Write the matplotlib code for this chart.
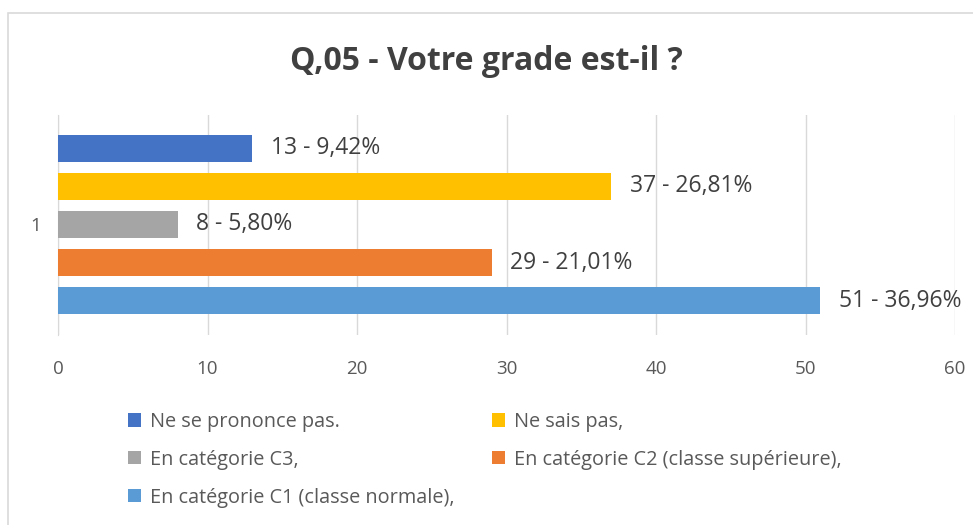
import matplotlib.pyplot as plt
from matplotlib.patches import Rectangle

# data
labels = ["Ne se prononce pas.", "Ne sais pas,", "En catégorie C3,",
          "En catégorie C2 (classe supérieure),", "En catégorie C1 (classe normale),"]
counts = [13, 37, 8, 29, 51]
percents = ["9,42%", "26,81%", "5,80%", "21,01%", "36,96%"]
colors = ["#4472C4", "#FFC000", "#A5A5A5", "#ED7D31", "#5B9BD5"]

plt.rcParams['font.family'] = ['Open Sans', 'DejaVu Sans']
txt = "#404040"

fig = plt.figure(figsize=(9.73, 5.25), dpi=100)
fig.patches.append(Rectangle((8 / 973, -0.01), 1.0, (525 - 13) / 525 + 0.01,
                             transform=fig.transFigure, fill=False,
                             edgecolor="#D9D9D9", linewidth=1.2))

ax = fig.add_axes([58 / 973, (525 - 335) / 525, (955 - 58) / 973, 220 / 525])
handles = []
for i, (c, p, col, lab) in enumerate(zip(counts, percents, colors, labels)):
    h = ax.barh(i, c, height=0.71, color=col, label=lab, zorder=3)
    handles.append(h)
    ax.text(c + 1.25, i, f"{c} - {p}", va="center", ha="left",
            fontsize=16.5, color=txt, zorder=4)

ax.set_xlim(0, 60)
ax.set_ylim(4.9, -0.87)
ax.set_xticks(range(0, 61, 10))
ax.set_yticks([2])
ax.set_yticklabels(["1"])
ax.tick_params(axis="both", length=0, labelsize=13.5, labelcolor="#595959")
ax.tick_params(axis="x", pad=18)
ax.tick_params(axis="y", pad=12)
ax.grid(axis="x", color="#D9D9D9", linewidth=1, zorder=0)
for s in ["top", "right", "bottom"]:
    ax.spines[s].set_visible(False)
ax.spines["left"].set_color("#D9D9D9")

fig.suptitle("Q,05 - Votre grade est-il ?", y=0.915, fontsize=23,
             fontweight="bold", color=txt)

# legend filled row by row like the original
order = [0, 2, 4, 1, 3]
fig.legend(handles=[handles[k] for k in order], labels=[labels[k] for k in order],
           ncol=2, loc="upper left",
           bbox_to_anchor=(110 / 973, 1 - 394 / 525), frameon=False,
           fontsize=14.3, labelcolor="#595959", handlelength=0.65,
           handleheight=0.65, handletextpad=0.45, columnspacing=1.9,
           labelspacing=0.9)

fig.savefig("out.png", dpi=100)
